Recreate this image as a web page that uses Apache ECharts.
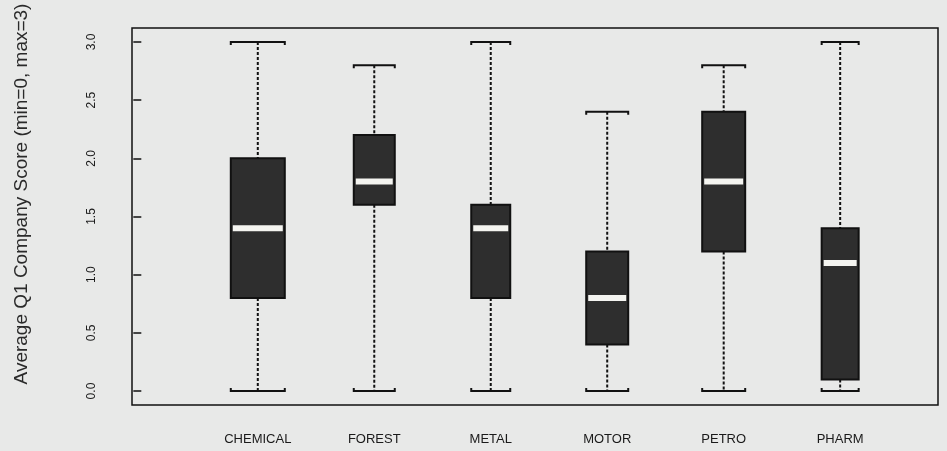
<!DOCTYPE html>
<html>
<head>
<meta charset="utf-8">
<script src="https://cdn.jsdelivr.net/npm/echarts@6/dist/echarts.min.js"></script>
<style>
  html, body { margin: 0; padding: 0; background: #e8e9e8; }
  #chart { width: 947px; height: 451px; }
</style>
</head>
<body>
<div id="chart"></div>
<script>
// data
const categories = ['CHEMICAL', 'FOREST', 'METAL', 'MOTOR', 'PETRO', 'PHARM'];
const whiskerLow  = [0, 0, 0, 0, 0, 0];
const quartile1   = [0.8, 1.6, 0.8, 0.4, 1.2, 0.1];
const medians     = [1.4, 1.8, 1.4, 0.8, 1.8, 1.1];
const quartile3   = [2.0, 2.2, 1.6, 1.2, 2.4, 1.4];
const whiskerHigh = [3.0, 2.8, 3.0, 2.4, 2.8, 3.0];
const yTicks = [0, 0.5, 1, 1.5, 2, 2.5, 3];

// box widths in px (varwidth look of the original)
const boxPx = [54, 41, 39, 42, 43, 37];
const ink = '#111111';

const chart = echarts.init(document.getElementById('chart'));

const boxData = categories.map(function (c, i) {
  return [i + 1, whiskerLow[i], quartile1[i], medians[i], quartile3[i], whiskerHigh[i]];
});

function renderBox(params, api) {
  const i = params.dataIndex;
  const x = api.value(0);
  const lo = api.coord([x, api.value(1)]);
  const q1 = api.coord([x, api.value(2)]);
  const md = api.coord([x, api.value(3)]);
  const q3 = api.coord([x, api.value(4)]);
  const hi = api.coord([x, api.value(5)]);
  const cx = lo[0];
  const hw = boxPx[i] / 2;
  const dash = { stroke: ink, lineWidth: 2, lineDash: [3, 2], fill: null };
  const solid = { stroke: ink, lineWidth: 2, fill: null };
  return {
    type: 'group',
    children: [
      { type: 'line', shape: { x1: cx, y1: hi[1], x2: cx, y2: q3[1] }, style: dash },
      { type: 'line', shape: { x1: cx, y1: q1[1], x2: cx, y2: lo[1] }, style: dash },
      { type: 'polyline', shape: { points: [[cx - hw, hi[1] + 3], [cx - hw, hi[1]], [cx + hw, hi[1]], [cx + hw, hi[1] + 3]] }, style: solid },
      { type: 'polyline', shape: { points: [[cx - hw, lo[1] - 3], [cx - hw, lo[1]], [cx + hw, lo[1]], [cx + hw, lo[1] - 3]] }, style: solid },
      { type: 'rect', shape: { x: cx - hw, y: q3[1], width: hw * 2, height: q1[1] - q3[1] },
        style: { fill: '#2e2e2e', stroke: ink, lineWidth: 2 } },
      { type: 'rect', shape: { x: cx - hw + 2, y: md[1] - 3, width: hw * 2 - 4, height: 6 },
        style: { fill: '#f4f4f0' } }
    ]
  };
}

chart.setOption({
  backgroundColor: '#e8e9e8',
  animation: false,
  grid: {
    left: 132, right: 9, top: 28, bottom: 46,
    show: true, borderColor: ink, borderWidth: 1.5, backgroundColor: 'transparent'
  },
  graphic: [{
    type: 'text', x: 22, y: 194, rotation: Math.PI / 2,
    style: {
      text: 'Average Q1 Company Score (min=0, max=3)',
      font: '19px "Liberation Sans"', fill: '#2a2a2a',
      align: 'center', verticalAlign: 'middle'
    }
  }],
  xAxis: {
    type: 'value', min: -0.08, max: 6.84,
    splitLine: { show: false },
    axisLine: { show: false },
    axisTick: { show: false },
    axisLabel: {
      customValues: [1, 2, 3, 4, 5, 6],
      formatter: function (v) { return categories[Math.round(v) - 1]; },
      margin: 28, fontFamily: 'Liberation Sans', fontSize: 13, color: '#1a1a1a'
    }
  },
  yAxis: {
    type: 'value', min: -0.12, max: 3.12,
    splitLine: { show: false },
    axisLine: { show: false },
    axisTick: { show: true, customValues: yTicks, length: 8, lineStyle: { color: ink, width: 1.5 } },
    axisLabel: {
      customValues: yTicks, rotate: 90, margin: 34,
      formatter: function (v) { return v.toFixed(1); },
      fontFamily: 'Liberation Sans', fontSize: 12, color: '#1a1a1a'
    }
  },
  series: [{
    type: 'custom',
    renderItem: renderBox,
    data: boxData
  }]
});
</script>
</body>
</html>
